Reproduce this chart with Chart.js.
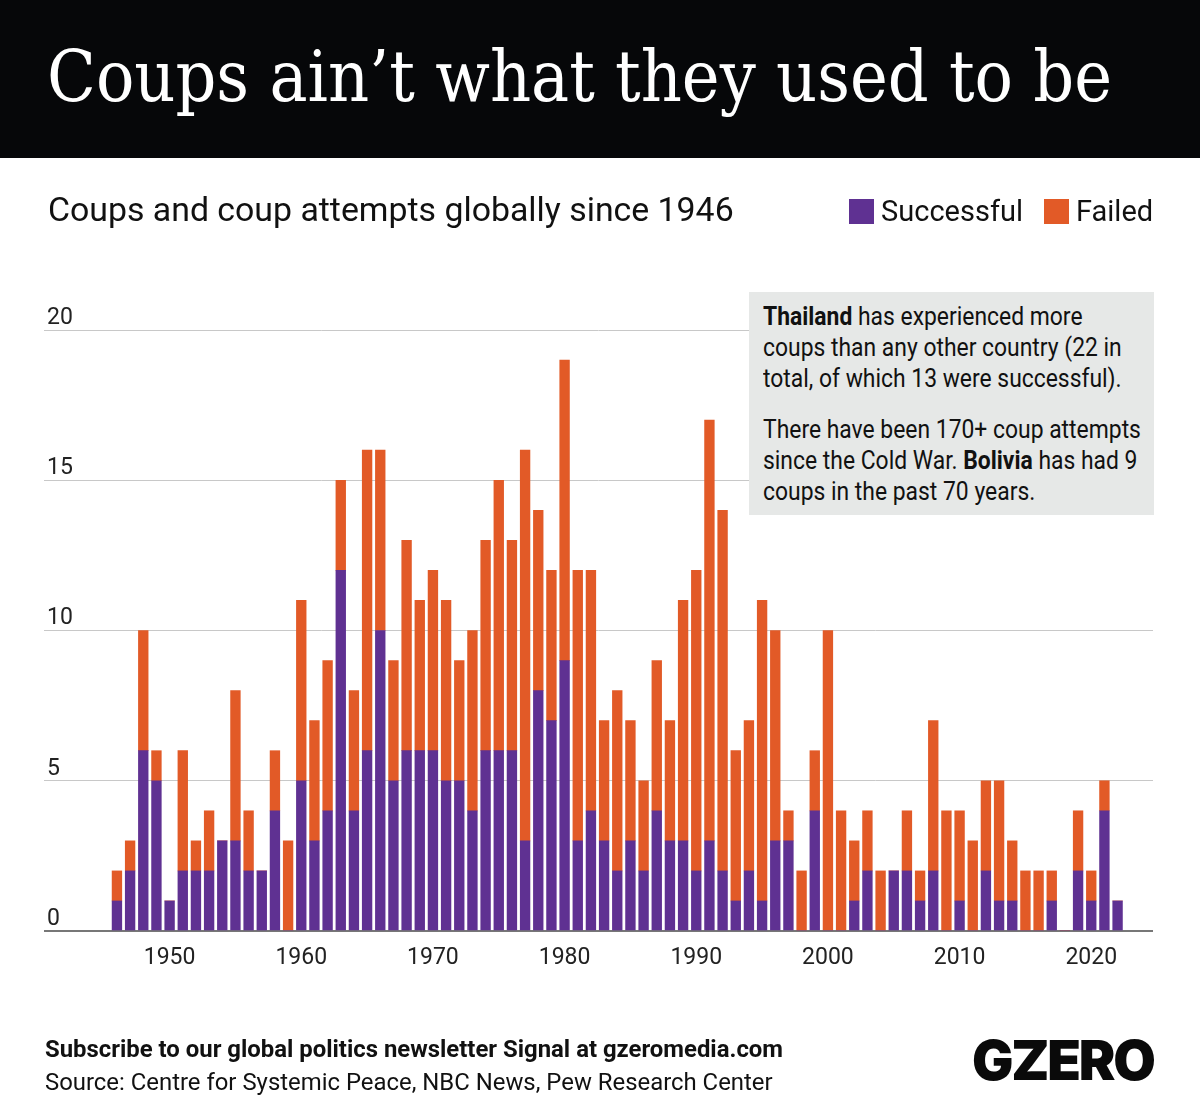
<!DOCTYPE html>
<html>
<head>
<meta charset="utf-8">
<title>Coups ain't what they used to be</title>
<script src="https://cdn.jsdelivr.net/npm/chart.js@4"></script>
<style>
    html, body { margin: 0; padding: 0; background: #fff; }
    #page { position: relative; width: 1200px; height: 1119px; overflow: hidden; font-family: Roboto, sans-serif; color: #111; }
    #page > * { position: absolute; }
    #chart { left: 0; top: 0; }
    #header { left: 0; top: 0; width: 1200px; height: 158px; background: #060709; }
    #title { left: 47px; top: 31px; font: 71px/92px "DejaVu Serif Condensed", "DejaVu Serif", serif; color: #fff; white-space: nowrap; }
    #subtitle { left: 48px; top: 189px; font-size: 33.85px; line-height: 42px; white-space: nowrap; }
    .swatch { width: 25px; height: 25px; top: 199px; }
    .legend { top: 192px; font-size: 29px; line-height: 38px; white-space: nowrap; }
    #note { left: 749px; top: 292px; width: 405px; height: 223px; background: #e6e8e7; }
    .note-text { left: 763px; font-size: 26px; line-height: 31px; white-space: nowrap; transform: scaleX(.88); transform-origin: left top; color: #111; }
    #cta { left: 45px; top: 1034px; font-size: 23.9px; line-height: 30px; font-weight: 700; white-space: nowrap; }
    #source { left: 45px; top: 1067px; font-size: 23.9px; line-height: 30px; white-space: nowrap; }
    #logo { left: 972px; top: 1026px; font: 900 55px/68px Inter, Roboto, sans-serif; letter-spacing: -2.2px; color: #0a0a0a; white-space: nowrap; }
</style>
</head>
<body>
<div id="page">
    <canvas id="chart" width="1200" height="1119"></canvas>
    <div id="header"></div>
    <div id="title">Coups ain’t what they used to be</div>
    <div id="subtitle">Coups and coup attempts globally since 1946</div>
    <div class="swatch" style="left:849px;background:#5f3192"></div>
    <div class="legend" style="left:881px">Successful</div>
    <div class="swatch" style="left:1044px;background:#e25a27"></div>
    <div class="legend" style="left:1076px">Failed</div>
    <div id="note"></div>
    <div class="note-text" style="top:301px"><b>Thailand</b> has experienced more<br>coups than any other country (22 in<br>total, of which 13 were successful).</div>
    <div class="note-text" style="top:414px">There have been 170+ coup attempts<br>since the Cold War. <b>Bolivia</b> has had 9<br>coups in the past 70 years.</div>
    <div id="cta">Subscribe to our global politics newsletter Signal at gzeromedia.com</div>
    <div id="source">Source: Centre for Systemic Peace, NBC News, Pew Research Center</div>
    <div id="logo">GZERO</div>
</div>
<script>
const years = [
    1946, 1947, 1948, 1949,
    1950, 1951, 1952, 1953, 1954, 1955, 1956, 1957, 1958, 1959,
    1960, 1961, 1962, 1963, 1964, 1965, 1966, 1967, 1968, 1969,
    1970, 1971, 1972, 1973, 1974, 1975, 1976, 1977, 1978, 1979,
    1980, 1981, 1982, 1983, 1984, 1985, 1986, 1987, 1988, 1989,
    1990, 1991, 1992, 1993, 1994, 1995, 1996, 1997, 1998, 1999,
    2000, 2001, 2002, 2003, 2004, 2005, 2006, 2007, 2008, 2009,
    2010, 2011, 2012, 2013, 2014, 2015, 2016, 2017, 2018, 2019,
    2020, 2021, 2022
];
const successful = [
    1, 2, 6, 5,
    1, 2, 2, 2, 3, 3, 2, 2, 4, 0,
    5, 3, 4, 12, 4, 6, 10, 5, 6, 6,
    6, 5, 5, 4, 6, 6, 6, 3, 8, 7,
    9, 3, 4, 3, 2, 3, 2, 4, 3, 3,
    2, 3, 2, 1, 2, 1, 3, 3, 0, 4,
    0, 0, 1, 2, 0, 2, 2, 1, 2, 0,
    1, 0, 2, 1, 1, 0, 0, 1, 0, 2,
    1, 4, 1
];
const failed = [
    1, 1, 4, 1,
    0, 4, 1, 2, 0, 5, 2, 0, 2, 3,
    6, 4, 5, 3, 4, 10, 6, 4, 7, 5,
    6, 6, 4, 6, 7, 9, 7, 13, 6, 5,
    10, 9, 8, 4, 6, 4, 3, 5, 4, 8,
    10, 14, 12, 5, 5, 10, 7, 1, 2, 2,
    10, 4, 2, 2, 2, 0, 2, 1, 5, 4,
    3, 3, 3, 4, 2, 2, 2, 1, 0, 2,
    1, 1, 0
];

const toPoints = (values) => values.map((v, i) => ({ x: years[i], y: v }));

new Chart(document.getElementById('chart'), {
    type: 'bar',
    data: {
        datasets: [
            { label: 'Successful', data: toPoints(successful), backgroundColor: '#5f3192', barThickness: 9.7 },
            { label: 'Failed', data: toPoints(failed), backgroundColor: '#e25a27', barThickness: 9.7 }
        ]
    },
    options: {
        responsive: false,
        animation: false,
        layout: { padding: { left: 44, right: 47, top: 330, bottom: 138 } },
        plugins: {
            legend: { display: false },
            tooltip: { enabled: false }
        },
        scales: {
            x: {
                type: 'linear',
                stacked: true,
                offset: false,
                min: 1940.46,
                max: 2024.69,
                afterFit: (scale) => { scale.height = 50; },
                grid: { display: false },
                border: { display: false },
                ticks: {
                    stepSize: 10,
                    includeBounds: false,
                    maxRotation: 0,
                    padding: 5,
                    color: '#222',
                    font: { family: 'Roboto', size: 23 },
                    callback: (v) => String(v)
                }
            },
            y: {
                stacked: true,
                min: 0,
                max: 20,
                afterFit: (scale) => { scale.width = 0; },
                grid: {
                    drawTicks: false,
                    color: (ctx) => ctx.tick.value === 0 ? '#777' : '#c8c8c8',
                    lineWidth: (ctx) => ctx.tick.value === 0 ? 2 : 1
                },
                border: { display: false },
                ticks: {
                    stepSize: 5,
                    mirror: true,
                    padding: 3,
                    labelOffset: -12,
                    color: '#222',
                    font: { family: 'Roboto', size: 23 }
                }
            }
        }
    }
});
</script>
</body>
</html>
